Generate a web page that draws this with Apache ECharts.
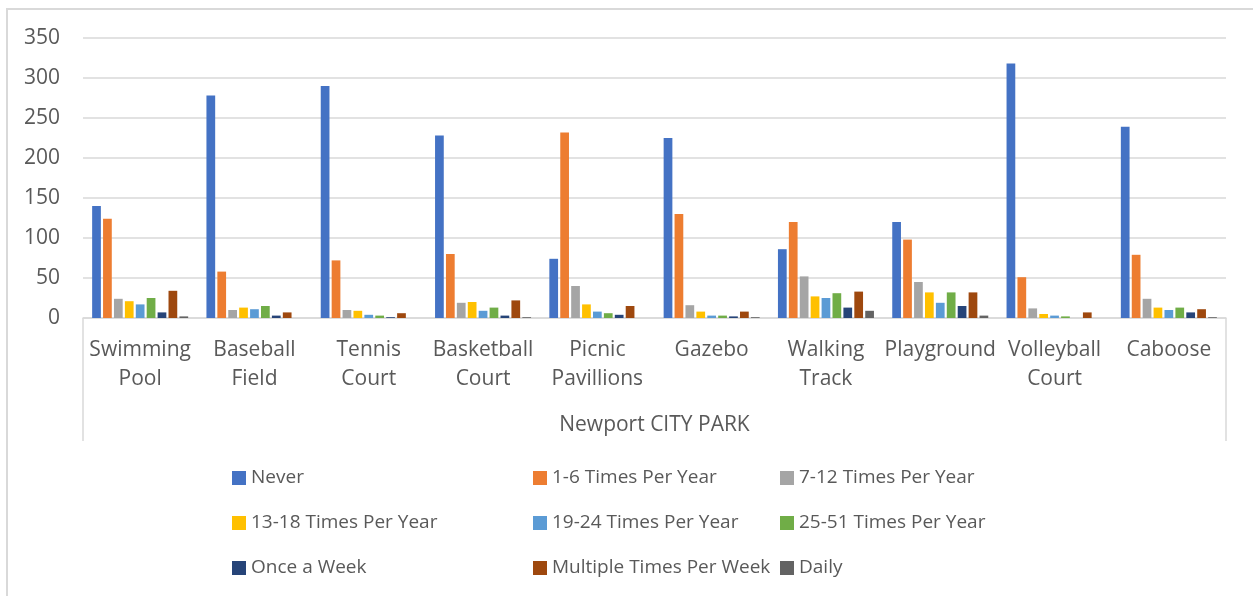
<!DOCTYPE html>
<html>
<head>
<meta charset="utf-8">
<title>Newport City Park usage</title>
<script src="https://cdn.jsdelivr.net/npm/echarts@6/dist/echarts.min.js"></script>
<style>
  html, body { margin: 0; padding: 0; background: #ffffff; }
  #chart { width: 1253px; height: 596px; }
</style>
</head>
<body>
<div id="chart"></div>
<script>
// Park facilities (category axis)
const categories = [
  'Swimming\nPool', 'Baseball\nField', 'Tennis\nCourt', 'Basketball\nCourt',
  'Picnic\nPavillions', 'Gazebo', 'Walking\nTrack', 'Playground',
  'Volleyball\nCourt', 'Caboose'
];

// Number of responses per visit frequency, one value per facility
const never       = [140, 278, 290, 228,  74, 225,  86, 120, 318, 239];
const times1to6   = [124,  58,  72,  80, 232, 130, 120,  98,  51,  79];
const times7to12  = [ 24,  10,  10,  19,  40,  16,  52,  45,  12,  24];
const times13to18 = [ 21,  13,   9,  20,  17,   8,  27,  32,   5,  13];
const times19to24 = [ 17,  11,   4,   9,   8,   3,  25,  19,   3,  10];
const times25to51 = [ 25,  15,   3,  13,   6,   3,  31,  32,   2,  13];
const onceAWeek   = [  7,   3,   1,   3,   4,   2,  13,  15,   0,   7];
const multiWeek   = [ 34,   7,   6,  22,  15,   8,  33,  32,   7,  11];
const daily       = [  2,   0,   0,   1,   0,   1,   9,   3,   0,   1];

const seriesNames = [
  'Never', '1-6 Times Per Year', '7-12 Times Per Year',
  '13-18 Times Per Year', '19-24 Times Per Year', '25-51 Times Per Year',
  'Once a Week', 'Multiple Times Per Week', 'Daily'
];
const seriesValues = [
  never, times1to6, times7to12, times13to18, times19to24,
  times25to51, onceAWeek, multiWeek, daily
];
const seriesColors = [
  '#4472C4', '#ED7D31', '#A5A5A5', '#FFC000', '#5B9BD5',
  '#70AD47', '#264478', '#9E480E', '#636363'
];

// Y axis ticks
const yMin = 0, yMax = 350, yStep = 50;

const FONT = '"Open Sans", "DejaVu Sans", sans-serif';
const TEXT = '#595959';
const LINE = '#d9d9d9';

const W = 1253, H = 596;
const gridLeft = 83, gridRight = 27, gridTop = 38, gridBottom = 278;
const axisY = H - gridBottom;

const chart = echarts.init(document.getElementById('chart'), null, { renderer: 'canvas' });

// Legend laid out as a 3-column grid: each column is a vertical legend
const legendCols = [
  { left: 227, items: [0, 3, 6] },
  { left: 528, items: [1, 4, 7] },
  { left: 775, items: [2, 5, 8] }
];

const option = {
  backgroundColor: '#ffffff',
  animation: false,
  textStyle: { fontFamily: FONT },
  grid: { left: gridLeft, right: gridRight, top: gridTop, bottom: gridBottom, containLabel: false },
  legend: legendCols.map(col => ({
    orient: 'vertical',
    left: col.left,
    top: 463,
    itemWidth: 14,
    itemHeight: 14,
    itemGap: 25,
    icon: 'rect',
    selectedMode: false,
    data: col.items.map(i => seriesNames[i]),
    textStyle: { color: TEXT, fontSize: 19, fontFamily: FONT, lineHeight: 20 }
  })),
  xAxis: {
    type: 'category',
    data: categories,
    name: 'Newport CITY PARK',
    nameLocation: 'middle',
    nameGap: 97,
    nameTextStyle: { color: TEXT, fontSize: 21, fontFamily: FONT },
    axisLine: { show: true, lineStyle: { color: LINE, width: 1.5 } },
    axisTick: { show: false },
    axisLabel: {
      color: TEXT, fontSize: 21, fontFamily: FONT, lineHeight: 29,
      margin: 18, interval: 0
    },
    splitLine: { show: false }
  },
  yAxis: {
    type: 'value',
    min: yMin,
    max: yMax,
    interval: yStep,
    axisLine: { show: false },
    axisTick: { show: false },
    axisLabel: { color: TEXT, fontSize: 21, fontFamily: FONT, margin: 23 },
    splitLine: { lineStyle: { color: LINE, width: 1.5 } }
  },
  series: seriesNames.map((name, i) => ({
    name: name,
    type: 'bar',
    data: seriesValues[i],
    barGap: '25%',
    barCategoryGap: '16%',
    itemStyle: { color: seriesColors[i] }
  })),
  graphic: [
    // chart frame
    {
      type: 'rect',
      shape: { x: 7, y: 9, width: W + 40, height: H + 40 },
      style: { fill: 'none', stroke: LINE, lineWidth: 2 },
      silent: true
    },
    // outer box of the category label band
    {
      type: 'line',
      shape: { x1: gridLeft, y1: axisY, x2: gridLeft, y2: axisY + 123 },
      style: { stroke: LINE, lineWidth: 1.5 },
      silent: true
    },
    {
      type: 'line',
      shape: { x1: W - gridRight, y1: axisY, x2: W - gridRight, y2: axisY + 123 },
      style: { stroke: LINE, lineWidth: 1.5 },
      silent: true
    }
  ]
};

chart.setOption(option);
</script>
</body>
</html>
